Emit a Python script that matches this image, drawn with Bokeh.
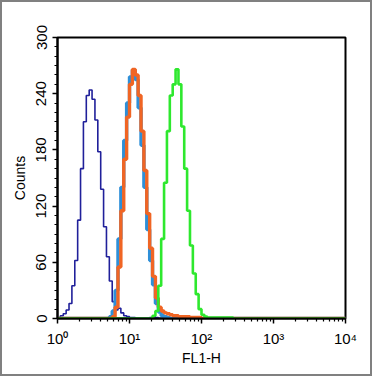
import numpy as np
from bokeh.plotting import figure
from bokeh.models import FixedTicker, Range1d
from bokeh.embed import file_html
from bokeh.resources import INLINE

# Histogram channels: log10 bins of width 0.04 decade from 10^0 to 10^4
bin_width = 0.04
n_bins = 100

# (first bin index, counts per bin)
blue_start = 0
blue_counts = [1, 3, 5, 9, 16, 35, 62, 105, 160, 210, 238, 244, 234, 212, 178, 138,
               98, 66, 40, 18, 9, 11, 6, 3, 2, 1, 1, 0, 0, 0, 0, 0, 1, 2, 1]

lightblue_start = 18
lightblue_counts = [2, 8, 30, 85, 140, 190, 230, 258, 265, 255, 225, 185, 140, 95,
                    62, 36, 16, 7, 3, 2, 1]

orange_start = 19
orange_counts = [2, 12, 55, 115, 170, 215, 250, 266, 260, 238, 200, 158, 112, 75,
                 45, 22, 12, 8, 6, 5, 4, 3, 3, 2, 2, 2, 2, 1, 1, 1, 1]

green_start = 33
green_counts = [3, 8, 35, 85, 145, 200, 238, 250, 266, 250, 205, 160, 115, 78, 48,
                26, 10, 4, 2, 1, 1, 1, 1, 1, 1, 1, 1, 1]

x_ticks = [1, 10, 100, 1000, 10000]
x_tick_labels = ["10\u2070", "10\u00b9", "10\u00b2", "10\u00b3", "10\u2074"]
y_ticks = [0, 60, 120, 180, 240, 300]

edges = 10 ** (bin_width * np.arange(n_bins + 1))


def step_y(start, counts):
    full = np.zeros(n_bins)
    full[start:start + len(counts)] = counts
    return np.append(full, full[-1])


p = figure(width=372, height=376, x_axis_type="log",
           x_range=Range1d(1, 10000), y_range=Range1d(0, 300),
           output_backend="svg", toolbar_location=None,
           min_border_left=55, min_border_right=29,
           min_border_top=35, min_border_bottom=60)
p.styles = {"border": "2px solid #808080"}

p.grid.visible = False
p.outline_line_color = "black"
p.outline_line_width = 2
p.outline_line_alpha = 1

series = [
    (blue_start, blue_counts, "#20209a", 1.6),
    (lightblue_start, lightblue_counts, "#2e8fd8", 3.4),
    (orange_start, orange_counts, "#f06524", 3.4),
    (green_start, green_counts, "#2ee82e", 2.6),
]
for start, counts, color, lw in series:
    p.step(x=edges, y=step_y(start, counts), mode="after",
           line_color=color, line_width=lw)

minor_x = [m * 10 ** d for d in range(4) for m in range(2, 10)]
p.xaxis.ticker = FixedTicker(ticks=x_ticks, minor_ticks=minor_x)
p.xaxis.major_label_overrides = {float(t): s for t, s in zip(x_ticks, x_tick_labels)}
p.yaxis.ticker = FixedTicker(ticks=y_ticks, minor_ticks=list(range(0, 301, 10)))

for ax in (p.xaxis[0], p.yaxis[0]):
    ax.axis_line_color = "black"
    ax.axis_line_width = 2
    ax.major_tick_line_color = "black"
    ax.major_tick_line_width = 1.5
    ax.minor_tick_line_color = "black"
    ax.minor_tick_line_width = 1.2
    ax.major_tick_in = 0
    ax.major_tick_out = 5
    ax.minor_tick_in = 0
    ax.minor_tick_out = 3
    ax.major_label_text_font = "Liberation Sans"
    ax.major_label_text_font_size = "15px"
    ax.major_label_text_color = "black"
    ax.axis_label_text_font = "Liberation Sans"
    ax.axis_label_text_font_size = "14px"
    ax.axis_label_text_font_style = "normal"
    ax.axis_label_text_color = "black"

p.xaxis.axis_label = "FL1-H"
p.xaxis.major_label_standoff = 6
p.xaxis.axis_label_standoff = 0
p.yaxis.axis_label = "Counts"
p.yaxis.major_label_orientation = "vertical"
p.yaxis.major_label_standoff = 6
p.yaxis.axis_label_standoff = 6

open("out.html", "w").write(file_html(p, INLINE))
